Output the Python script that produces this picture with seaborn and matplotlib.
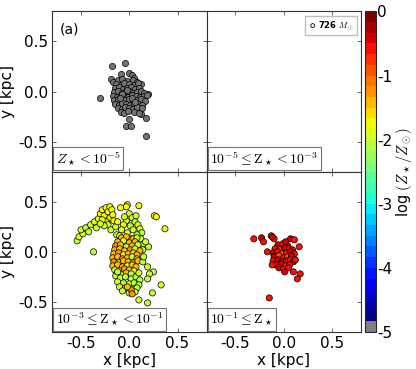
import numpy as np
import pandas as pd
import seaborn as sns
import matplotlib.pyplot as plt
from matplotlib.colors import ListedColormap, Normalize
from matplotlib.cm import ScalarMappable

# painel (a): Z < 1e-5 (cinza)
a_x = [-0.30, -0.18, -0.04, 0.17, -0.03, 0.02, 0.00, 0.12, 0.17, 0.19, 0.12, -0.19, -0.17, 0.00, 0.03, 0.05, -0.09,
       -0.12, -0.07, -0.02, 0.04, 0.08,
       -0.14, -0.09, -0.05, 0.00, 0.05, 0.09,
       -0.15, -0.11, -0.06, -0.02, 0.02, 0.06, 0.10,
       -0.16, -0.12, -0.08, -0.04, 0.00, 0.04, 0.08, 0.12, 0.15,
       -0.17, -0.13, -0.09, -0.05, -0.01, 0.03, 0.07, 0.11, 0.15, 0.18,
       -0.16, -0.12, -0.08, -0.04, 0.00, 0.04, 0.08, 0.12, 0.16,
       -0.15, -0.11, -0.07, -0.03, 0.01, 0.05, 0.09, 0.13,
       -0.12, -0.08, -0.04, 0.00, 0.04, 0.08, 0.13,
       -0.09, -0.05, -0.01, 0.05, 0.10,
       -0.02, 0.03, -0.07, 0.06, -0.10]
a_y = [-0.06, 0.26, 0.28, -0.44, -0.34, -0.34, -0.27, -0.22, -0.26, -0.02, 0.08, 0.13, 0.10, 0.19, 0.17, 0.14, 0.18,
       0.12, 0.13, 0.11, 0.12, 0.10,
       0.08, 0.07, 0.09, 0.08, 0.07, 0.09,
       0.04, 0.05, 0.03, 0.04, 0.05, 0.03, 0.04,
       0.00, 0.01, -0.01, 0.00, 0.01, -0.01, 0.00, 0.01, -0.01,
       -0.04, -0.05, -0.03, -0.04, -0.05, -0.03, -0.04, -0.05, -0.04, -0.03,
       -0.08, -0.07, -0.09, -0.08, -0.07, -0.09, -0.08, -0.07, -0.09,
       -0.12, -0.13, -0.11, -0.12, -0.13, -0.11, -0.12, -0.13,
       -0.16, -0.17, -0.15, -0.16, -0.17, -0.15, -0.16,
       -0.20, -0.21, -0.19, -0.20, -0.21,
       0.02, -0.06, -0.02, -0.10, -0.06]

# painel (c): 1e-3 <= Z < 1e-1
c_x = [-0.54, -0.52, -0.48, -0.50, -0.45, -0.42, -0.40, -0.36, -0.34, -0.32,
       -0.30, -0.28, -0.26, -0.24, -0.22, -0.20, -0.18, -0.20, -0.24, -0.28, -0.22, -0.17, -0.26, -0.30, -0.16,
       -0.19, -0.14, -0.13, -0.12,
       -0.02, -0.03, -0.09, 0.10, 0.26, 0.28, 0.37, -0.37,
       0.00, 0.03, -0.03, 0.06, 0.09, -0.06, 0.01, 0.11, -0.08, 0.04, 0.13, -0.02, 0.08, -0.10, 0.12, 0.02,
       0.15, 0.14, -0.05, 0.07,
       -0.08, -0.03, 0.04, 0.08,
       -0.12, -0.06, 0.00, 0.06,
       -0.14, -0.09, -0.03, 0.03, 0.09,
       -0.15, -0.10, -0.05, 0.01, 0.06, 0.11,
       -0.16, -0.11, -0.06, -0.01, 0.04, 0.08,
       -0.17, -0.12, -0.07, -0.02, 0.03, 0.08,
       -0.16, -0.11, -0.06, -0.01, 0.04, 0.09,
       -0.17, -0.12, -0.07, -0.02, 0.03, 0.07,
       -0.15, -0.10, -0.05, 0.00, 0.05,
       -0.13, -0.08, -0.03, 0.02,
       -0.14, -0.09, -0.04, 0.02, 0.07, 0.11, -0.12, -0.06, 0.00, 0.05, 0.10, -0.10, -0.04, 0.03, 0.08,
       -0.07, 0.00, 0.06, -0.12, 0.10,
       0.02, 0.03, -0.02,
       0.20, 0.19, 0.25, 0.21, 0.19, 0.33, 0.24, 0.10, 0.19, 0.17, 0.14, 0.15]
c_y = [0.11, 0.15, 0.18, 0.22, 0.24, 0.20, 0.27, 0.30, 0.24, 0.33,
       0.38, 0.42, 0.36, 0.44, 0.40, 0.45, 0.42, 0.34, 0.30, 0.32, 0.27, 0.37, 0.26, 0.28, 0.31,
       0.22, 0.25, 0.17, 0.30,
       0.47, 0.45, 0.44, 0.46, 0.36, 0.35, 0.23, 0.00,
       0.38, 0.34, 0.31, 0.30, 0.27, 0.27, 0.26, 0.23, 0.22, 0.22, 0.19, 0.19, 0.17, 0.16, 0.13, 0.13,
       0.08, 0.02, 0.35, 0.36,
       0.14, 0.15, 0.13, 0.14,
       0.10, 0.11, 0.09, 0.10,
       0.06, 0.07, 0.05, 0.06, 0.07,
       0.02, 0.03, 0.01, 0.02, 0.03, 0.01,
       -0.02, -0.01, -0.03, -0.02, -0.01, -0.03,
       -0.06, -0.05, -0.07, -0.06, -0.05, -0.07,
       -0.10, -0.11, -0.09, -0.10, -0.11, -0.09,
       -0.14, -0.13, -0.15, -0.14, -0.13, -0.15,
       -0.18, -0.19, -0.17, -0.18, -0.19,
       -0.22, -0.23, -0.21, -0.22,
       -0.24, -0.26, -0.25, -0.27, -0.25, -0.28, -0.30, -0.31, -0.32, -0.31, -0.33, -0.35, -0.36, -0.37, -0.36,
       -0.39, -0.41, -0.40, -0.20, -0.21,
       -0.38, -0.42, -0.35,
       0.05, -0.15, -0.20, -0.22, -0.27, -0.33, -0.41, -0.48, -0.51, 0.10, -0.10, -0.05]
c_z = [-2.1, -2.0, -2.0, -2.0, -2.1, -2.1, -1.9, -1.9, -2.0, -1.8,
       -1.7, -1.7, -1.8, -1.7, -1.8, -1.7, -1.7, -1.8, -1.8, -1.8, -1.9, -1.8, -1.9, -1.9, -1.8,
       -2.0, -1.9, -2.0, -1.8,
       -1.7, -1.8, -1.7, -1.8, -1.7, -1.8, -1.9, -2.1,
       -1.9, -2.0, -1.9, -2.1, -2.0, -1.8, -2.1, -1.9, -2.0, -2.0, -2.1, -2.0, -2.1, -1.9, -2.0, -2.1,
       -2.1, -2.0, -1.9, -1.9,
       -1.4, -1.4, -1.5, -2.0,
       -1.4, -2.0, -1.4, -1.5,
       -1.3, -1.4, -2.1, -1.4, -2.0,
       -1.4, -1.5, -1.4, -1.3, -2.0, -1.4,
       -1.4, -1.3, -2.0, -1.4, -1.5, -1.4,
       -1.4, -1.4, -1.3, -1.5, -2.1, -1.4,
       -1.3, -2.0, -1.4, -1.4, -1.4, -1.5,
       -1.4, -1.4, -1.5, -2.0, -1.4, -1.4,
       -2.1, -1.4, -1.3, -1.4, -2.0,
       -1.4, -2.0, -1.4, -2.1,
       -2.1, -2.0, -2.1, -2.0, -2.1, -2.1, -2.0, -2.1, -2.0, -2.1, -2.1, -2.0, -2.1, -2.0, -2.1,
       -2.0, -2.1, -2.0, -2.1, -2.0,
       -1.3, -1.3, -1.4,
       -2.1, -2.0, -2.1, -2.0, -2.1, -2.0, -2.1, -2.0, -2.1, -2.0, -2.1, -2.1]

# painel (d): 1e-1 <= Z
d_x = [-0.06, -0.01, 0.04,
       -0.09, -0.04, 0.01, 0.06, 0.09,
       -0.11, -0.06, -0.02, 0.03, 0.07, 0.11,
       -0.10, -0.05, 0.00, 0.04, 0.08,
       -0.11, -0.06, -0.02, 0.03, 0.07, 0.10,
       -0.08, -0.03, 0.02, 0.06,
       -0.05, 0.00, 0.05,
       -0.31, -0.23, -0.21, -0.13, -0.10, -0.12, 0.07, 0.11, 0.02, 0.16, 0.12, 0.01, 0.10, 0.17, 0.14,
       -0.15, -0.17, -0.12]
d_y = [0.07, 0.08, 0.06,
       0.03, 0.02, 0.04, 0.03, 0.02,
       -0.01, 0.00, -0.02, -0.01, 0.00, -0.02,
       -0.05, -0.04, -0.06, -0.05, -0.04,
       -0.09, -0.08, -0.10, -0.09, -0.08, -0.10,
       -0.13, -0.12, -0.14, -0.13,
       -0.16, -0.17, -0.16,
       0.13, 0.14, 0.10, 0.16, 0.13, 0.15, 0.13, 0.12, 0.10, 0.05, -0.08, -0.20, -0.20, -0.22, -0.27,
       -0.46, 0.00, -0.13]
d_z = [-0.5, -0.6, -0.4,
       -0.6, -0.9, -0.5, -0.6, -0.4,
       -0.5, -0.6, -1.0, -0.6, -0.5, -0.6,
       -0.4, -0.9, -0.6, -1.0, -0.5,
       -0.6, -0.5, -0.6, -0.4, -0.6, -0.5,
       -0.6, -0.5, -0.8, -0.6,
       -0.5, -0.6, -0.6,
       -0.6, -0.5, -0.6, -0.9, -0.6, -0.5, -0.4, -0.6, -0.5, -0.6, -0.6, -0.5, -0.6, -0.6, -0.6,
       -0.6, -0.6, -0.6]

cbar_ticks = [0, -1, -2, -3, -4, -5]

sns.set_style('ticks')
plt.rcParams['font.family'] = ['DejaVu Sans']
plt.rcParams['mathtext.fontset'] = 'cm'
plt.rcParams['axes.unicode_minus'] = False
plt.rcParams['xtick.direction'] = 'in'
plt.rcParams['ytick.direction'] = 'in'
plt.rcParams['xtick.top'] = True
plt.rcParams['ytick.right'] = True
plt.rcParams['text.color'] = 'black'
plt.rcParams['axes.labelcolor'] = 'black'
plt.rcParams['xtick.labelcolor'] = 'black'
plt.rcParams['ytick.labelcolor'] = 'black'

# colormap discreto: cinza + jet
cores = [(0.5, 0.5, 0.5, 1.0)] + list(plt.get_cmap('jet')(np.linspace(0, 1, 29)))
cmap = ListedColormap(cores)
norm = Normalize(-5, 0)

fig = plt.figure(figsize=(4.16, 3.69), dpi=100)
L, W = 0.125, 0.3714
B, H = 0.1003, 0.4344
ax_a = fig.add_axes([L, B + H, W, H])
ax_b = fig.add_axes([L + W, B + H, W, H])
ax_c = fig.add_axes([L, B, W, H])
ax_d = fig.add_axes([L + W, B, W, H])
cax = fig.add_axes([0.8774, B, 0.0265, 2 * H])

sns.scatterplot(x=a_x, y=a_y, color='0.45', s=20, edgecolor='k', linewidth=0.5, ax=ax_a)
dc = pd.DataFrame({'x': c_x, 'y': c_y, 'z': c_z})
sns.scatterplot(data=dc, x='x', y='y', hue='z', palette=cmap, hue_norm=norm, s=20,
                edgecolor='k', linewidth=0.5, legend=False, ax=ax_c)
dd = pd.DataFrame({'x': d_x, 'y': d_y, 'z': d_z})
sns.scatterplot(data=dd, x='x', y='y', hue='z', palette=cmap, hue_norm=norm, s=20,
                edgecolor='k', linewidth=0.5, legend=False, ax=ax_d)

ax_b.scatter([], [], s=8, facecolor='none', edgecolor='k', linewidth=0.6, label=r'726 $M_\odot$')
leg = ax_b.legend(loc='upper right', prop={'size': 6, 'weight': 'bold'}, scatterpoints=1,
                  handletextpad=0.1, borderpad=0.4, handlelength=1.0, fancybox=False, framealpha=1)
leg.get_frame().set_edgecolor('0.75')

rotulos = [r'$Z_\star < 10^{-5}$', r'$10^{-5} \leq \mathrm{Z}_\star < 10^{-3}$',
           r'$10^{-3} \leq \mathrm{Z}_\star < 10^{-1}$', r'$10^{-1} \leq \mathrm{Z}_\star$']
for ax, rot in zip([ax_a, ax_b, ax_c, ax_d], rotulos):
    ax.set_xlim(-0.8, 0.8)
    ax.set_ylim(-0.8, 0.8)
    ax.set_xticks([-0.5, 0.0, 0.5])
    ax.set_yticks([-0.5, 0.0, 0.5])
    ax.tick_params(labelsize=11, length=3, width=0.6, color='0.3', pad=3)
    for sp in ax.spines.values():
        sp.set_linewidth(0.8)
        sp.set_color('0.2')
    ax.set_xlabel('')
    ax.set_ylabel('')
    ax.text(0.025, 0.025, rot, transform=ax.transAxes, fontsize=10, ha='left', va='bottom',
            bbox=dict(boxstyle='square,pad=0.2', fc='w', ec='0.45', lw=0.8))

for ax in [ax_a, ax_b]:
    ax.tick_params(labelbottom=False)
for ax in [ax_b, ax_d]:
    ax.tick_params(labelleft=False)
ax_a.set_ylabel('y [kpc]', fontsize=11, labelpad=2)
ax_c.set_ylabel('y [kpc]', fontsize=11, labelpad=2)
ax_c.set_xlabel('x [kpc]', fontsize=11, labelpad=1)
ax_d.set_xlabel('x [kpc]', fontsize=11, labelpad=1)
ax_a.text(0.05, 0.93, '(a)', transform=ax_a.transAxes, fontsize=10, va='top')

cb = fig.colorbar(ScalarMappable(norm=norm, cmap=cmap), cax=cax, ticks=cbar_ticks)
cb.ax.set_yticklabels([str(t) for t in cbar_ticks])
cb.ax.tick_params(labelsize=11, length=0, pad=1)
cb.outline.set_linewidth(0.8)
cb.set_label(r'log $(Z_\star/Z_\odot)$', fontsize=10.5, labelpad=1)

fig.savefig('out.png', dpi=100)
